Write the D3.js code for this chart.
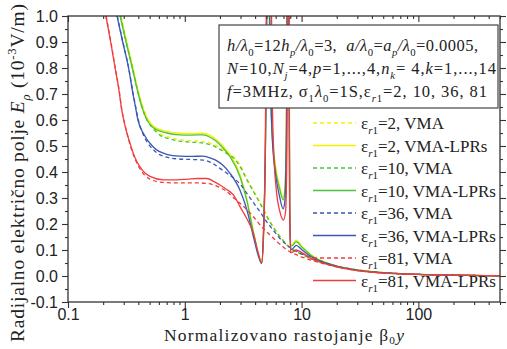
<!DOCTYPE html>
<html>
<head>
<meta charset="utf-8">
<script src="https://d3js.org/d3.v7.min.js"></script>
<style>
body { margin: 0; background: #fff; }
</style>
</head>
<body>
<svg id="chart" width="507" height="349"></svg>
<script>
// values: [beta0*y, E (1e-3 V/m)]
var eps2Vma = [[0.284,1.0],[0.318,0.9],[0.36,0.8],[0.405,0.70],[0.443,0.644],[0.48,0.606],[0.54,0.571],[0.62,0.546],[0.75,0.533],[0.9,0.525],[1.1,0.521],[1.4,0.518],[1.7,0.509],[2.0,0.493],[2.3,0.476],[2.6,0.461],[3.0,0.424],[3.4,0.376],[3.9,0.327],[4.4,0.285],[5.4,0.209],[6.5,0.155],[8.0,0.109],[9.5,0.09],[11,0.075],[15,0.053],[20,0.037],[30,0.023],[57,0.011],[100,0.006],[200,0.003],[500,0.001]];
var eps2Lpr = [[0.283,1.0],[0.318,0.9],[0.36,0.8],[0.405,0.70],[0.443,0.64],[0.48,0.605],[0.54,0.576],[0.7,0.556],[0.9,0.549],[1.15,0.548],[1.43,0.549],[1.7,0.537],[1.87,0.524],[2.1,0.502],[2.44,0.466],[2.97,0.39],[3.4,0.296],[3.9,0.165],[4.25,0.088],[4.55,0.052],[4.7,0.15],[4.9,0.5],[5.1,1.15],[5.25,1.15],[5.35,0.86],[5.55,0.6],[5.9,0.445],[6.45,0.35],[6.95,0.302],[7.2,0.34],[7.42,0.62],[7.55,1.15],[7.75,1.15],[7.9,0.3],[8.05,0.12],[8.4,0.124],[9.0,0.138],[10,0.116],[12,0.083],[15.2,0.057],[20,0.039],[30,0.024],[57,0.011],[100,0.006],[200,0.003],[500,0.001]];
var eps10Vma = [[0.281,1.0],[0.315,0.9],[0.356,0.8],[0.40,0.70],[0.438,0.638],[0.474,0.6],[0.54,0.565],[0.62,0.54],[0.75,0.527],[0.9,0.519],[1.1,0.515],[1.4,0.512],[1.7,0.503],[2.0,0.487],[2.3,0.47],[2.6,0.455],[3.0,0.418],[3.4,0.37],[3.9,0.322],[4.4,0.28],[5.4,0.205],[6.5,0.152],[8.0,0.107],[9.5,0.088],[11,0.074],[15,0.052],[20,0.037],[30,0.023],[57,0.011],[100,0.006],[200,0.003],[500,0.001]];
var eps10Lpr = [[0.279,1.0],[0.314,0.9],[0.355,0.8],[0.40,0.70],[0.438,0.638],[0.474,0.6],[0.54,0.57],[0.7,0.55],[0.9,0.543],[1.15,0.542],[1.43,0.543],[1.7,0.53],[1.87,0.517],[2.1,0.495],[2.44,0.459],[2.97,0.382],[3.4,0.29],[3.9,0.16],[4.25,0.085],[4.55,0.05],[4.7,0.15],[4.9,0.5],[5.1,1.15],[5.25,1.15],[5.35,0.85],[5.55,0.58],[5.9,0.43],[6.45,0.34],[6.95,0.292],[7.2,0.33],[7.42,0.6],[7.55,1.15],[7.75,1.15],[7.9,0.3],[8.05,0.115],[8.4,0.118],[9.0,0.132],[10,0.112],[12,0.08],[15.2,0.055],[20,0.038],[30,0.023],[57,0.011],[100,0.006],[200,0.003],[500,0.001]];
var eps36Vma = [[0.264,1.0],[0.295,0.9],[0.331,0.8],[0.362,0.70],[0.38,0.65],[0.4,0.6],[0.44,0.545],[0.54,0.485],[0.7,0.457],[0.9,0.45],[1.15,0.448],[1.43,0.446],[1.7,0.435],[2.0,0.414],[2.3,0.395],[2.6,0.378],[3.0,0.352],[3.4,0.318],[3.9,0.28],[4.4,0.247],[5.0,0.21],[5.7,0.177],[6.5,0.145],[7.5,0.119],[9,0.095],[11,0.078],[15,0.055],[20,0.038],[30,0.023],[57,0.011],[100,0.006],[200,0.003],[500,0.001]];
var eps36Lpr = [[0.263,1.0],[0.294,0.9],[0.33,0.8],[0.36,0.70],[0.378,0.65],[0.397,0.6],[0.44,0.55],[0.54,0.495],[0.7,0.468],[0.9,0.461],[1.15,0.46],[1.43,0.461],[1.7,0.452],[1.87,0.444],[2.1,0.428],[2.44,0.395],[2.97,0.33],[3.4,0.255],[3.9,0.145],[4.25,0.08],[4.55,0.048],[4.7,0.14],[4.9,0.48],[5.1,1.15],[5.3,1.15],[5.4,0.8],[5.6,0.54],[5.95,0.4],[6.45,0.31],[6.95,0.258],[7.2,0.29],[7.42,0.55],[7.55,1.15],[7.75,1.15],[7.9,0.28],[8.05,0.1],[8.4,0.105],[9.0,0.118],[10,0.102],[12,0.075],[15.2,0.053],[20,0.037],[30,0.022],[57,0.011],[100,0.006],[200,0.003],[500,0.001]];
var eps81Vma = [[0.212,1.0],[0.233,0.9],[0.254,0.8],[0.273,0.72],[0.289,0.64],[0.308,0.58],[0.34,0.505],[0.375,0.45],[0.413,0.413],[0.504,0.372],[0.655,0.36],[0.85,0.358],[1.04,0.358],[1.3,0.358],[1.6,0.355],[1.9,0.345],[2.28,0.325],[2.6,0.302],[2.97,0.28],[3.4,0.255],[3.87,0.228],[4.5,0.192],[5.36,0.158],[6.3,0.128],[7.5,0.1],[9,0.082],[11,0.067],[15,0.049],[20,0.035],[30,0.021],[57,0.01],[100,0.006],[200,0.003],[500,0.001]];
var eps81Lpr = [[0.211,1.0],[0.232,0.9],[0.253,0.8],[0.272,0.72],[0.288,0.64],[0.307,0.58],[0.34,0.51],[0.375,0.455],[0.413,0.42],[0.504,0.383],[0.655,0.37],[0.85,0.37],[1.04,0.372],[1.3,0.375],[1.54,0.375],[1.8,0.362],[2.0,0.35],[2.3,0.332],[2.61,0.312],[2.97,0.267],[3.4,0.22],[3.87,0.164],[4.25,0.09],[4.55,0.05],[4.7,0.13],[4.88,0.45],[5.02,1.15],[5.5,1.15],[5.58,0.75],[5.75,0.5],[6.05,0.34],[6.5,0.25],[7.0,0.215],[7.3,0.25],[7.5,0.5],[7.62,1.15],[7.78,1.15],[7.92,0.25],[8.05,0.09],[8.4,0.092],[9.0,0.1],[10,0.09],[12,0.068],[15.2,0.05],[20,0.035],[30,0.021],[57,0.01],[100,0.006],[200,0.003],[500,0.001]];

var legendLabels = ["2, VMA","2, VMA-LPRs","10, VMA","10, VMA-LPRs","36, VMA","36, VMA-LPRs","81, VMA","81, VMA-LPRs"];
var xMajor = [0.1, 1, 10, 100];
var yMajor = [-0.1,0,0.1,0.2,0.3,0.4,0.5,0.6,0.7,0.8,0.9,1.0];

var series = [
  {d: eps2Vma,  c: "#f2f200", dash: true},
  {d: eps2Lpr,  c: "#f2f200", dash: false},
  {d: eps10Vma, c: "#4cc43c", dash: true},
  {d: eps10Lpr, c: "#4cc43c", dash: false},
  {d: eps36Vma, c: "#3b56b4", dash: true},
  {d: eps36Lpr, c: "#3b56b4", dash: false},
  {d: eps81Vma, c: "#f03c3c", dash: true},
  {d: eps81Lpr, c: "#f03c3c", dash: false}
];

var SERIF = "'Liberation Serif', 'Times New Roman', 'DejaVu Serif', serif";
var SANS = "'Liberation Sans', Arial, sans-serif";

var svg = d3.select("#chart");
var L = 68, R = 500, T = 16, B = 302;
var x = d3.scaleLog().domain([0.1, 500]).range([L, R]);
var y = d3.scaleLinear().domain([-0.1, 1.0]).range([B, T]);

var xMinor = [];
[0.1, 1, 10, 100].forEach(function(p) {
  for (var k = 2; k <= 9; k++) if (p * k <= 500) xMinor.push(p * k);
});
var yMinor = d3.range(-0.05, 1.0, 0.1);

svg.append("clipPath").attr("id", "clip")
  .append("rect").attr("x", L).attr("y", T).attr("width", R - L).attr("height", B - T);

var line = d3.line().x(function(d){ return x(d[0]); }).y(function(d){ return y(d[1]); })
  .curve(d3.curveMonotoneX);

var plot = svg.append("g").attr("clip-path", "url(#clip)");
series.forEach(function(s) {
  plot.append("path").attr("d", line(s.d))
    .attr("fill", "none").attr("stroke", s.c).attr("stroke-width", 1.3)
    .attr("stroke-dasharray", s.dash ? "4,3" : null);
});

// axes
function styleAxis(g) {
  g.select(".domain").remove();
  g.selectAll(".tick line").attr("stroke", "#333").attr("stroke-width", 1.1);
  g.selectAll(".tick text").style("font-family", SANS).style("font-size", "16px").attr("fill", "#222");
}
svg.append("g").attr("transform", "translate(0," + B + ")")
  .call(d3.axisBottom(x).tickValues(xMajor).tickSize(6).tickPadding(1).tickFormat(function(d){ return String(d); }))
  .call(styleAxis);
svg.append("g").attr("transform", "translate(0," + B + ")")
  .call(d3.axisBottom(x).tickValues(xMinor).tickSize(3).tickFormat(""))
  .call(styleAxis);
svg.append("g").attr("transform", "translate(0," + T + ")")
  .call(d3.axisTop(x).tickValues(xMajor).tickSizeInner(-6).tickSizeOuter(0).tickFormat(""))
  .call(styleAxis);
svg.append("g").attr("transform", "translate(0," + T + ")")
  .call(d3.axisTop(x).tickValues(xMinor).tickSizeInner(-3).tickSizeOuter(0).tickFormat(""))
  .call(styleAxis);
svg.append("g").attr("transform", "translate(" + L + ",0)")
  .call(d3.axisLeft(y).tickValues(yMajor).tickSize(6).tickPadding(4).tickFormat(function(d){ return d.toFixed(1); }))
  .call(styleAxis);
svg.append("g").attr("transform", "translate(" + L + ",0)")
  .call(d3.axisLeft(y).tickValues(yMinor).tickSize(3).tickFormat(""))
  .call(styleAxis);
svg.append("g").attr("transform", "translate(" + R + ",0)")
  .call(d3.axisRight(y).tickValues(yMajor).tickSize(6).tickFormat(""))
  .call(styleAxis);
svg.append("g").attr("transform", "translate(" + R + ",0)")
  .call(d3.axisRight(y).tickValues(yMinor).tickSize(3).tickFormat(""))
  .call(styleAxis);

svg.append("rect").attr("x", L).attr("y", T).attr("width", R - L).attr("height", B - T)
  .attr("fill", "none").attr("stroke", "#333").attr("stroke-width", 1.3);

// rich text with italics / sub / superscripts
function rich(g, px, py, parts, size, len, subShift) {
  var t = g.append("text").attr("x", px).attr("y", py)
    .style("font-family", SERIF).style("font-size", size + "px")
    .style("white-space", "pre").attr("fill", "#222");
  var shift = 0;
  var subK = subShift || 0.3;
  parts.forEach(function(p) {
    var f = p[1];
    var sub = f.indexOf("s") >= 0, sup = f.indexOf("u") >= 0;
    var target = sub ? size * subK : (sup ? -size * 0.4 : 0);
    var ts = t.append("tspan").text(p[0]).attr("dy", target - shift);
    shift = target;
    if (f.indexOf("i") >= 0) ts.style("font-style", "italic");
    if (sub || sup) ts.style("font-size", (size * 0.65) + "px");
  });
  if (len) t.attr("textLength", len).attr("lengthAdjust", "spacing");
  return t;
}

// parameter box
svg.append("rect").attr("x", 219).attr("y", 25).attr("width", 279).attr("height", 83)
  .attr("fill", "#fff").attr("stroke", "#444").attr("stroke-width", 1.2);
var box = svg.append("g");
rich(box, 227, 51, [["h","i"],["/λ","i"],["0","s"],["=12",""],["h","i"],["p","si"],["/λ","i"],["0","s"],["=3,  ",""],["a","i"],["/λ","i"],["0","s"],["=",""],["a","i"],["p","si"],["/λ","i"],["0","s"],["=0.0005,",""]], 16.5, 251);
rich(box, 227, 74, [["N","i"],["=10,",""],["N","i"],["j","si"],["=4,",""],["p","i"],["=1,...,4,",""],["n","i"],["k","si"],["= 4,",""],["k","i"],["=1,...,14",""]], 16.5, 269);
rich(box, 227, 97, [["f","i"],["=3MHz, σ",""],["1","s"],["λ","i"],["0","s"],["=1S,ε",""],["r","si"],["1","s"],["=2, 10, 36, 81",""]], 16.5, 260);

// legend
var leg = svg.append("g");
series.forEach(function(s, i) {
  var ly = 123 + i * 22.5;
  leg.append("line").attr("x1", 313).attr("x2", 356).attr("y1", ly).attr("y2", ly)
    .attr("stroke", s.c).attr("stroke-width", 1.3)
    .attr("stroke-dasharray", s.dash ? "4,3" : null);
  rich(leg, 361, ly + 6, [["ε",""],["r","si"],["1","s"],["=" + legendLabels[i],""]], 17);
});

// axis titles
var yt = svg.append("g").attr("transform", "translate(24,173) rotate(-90)");
rich(yt, 0, 0, [["Radijalno električno polje ",""],["E","i"],["ρ","si"],[" (10",""],["-3","u"],["V/m)",""]], 19.5, 338)
  .attr("text-anchor", "middle");
rich(svg, 284, 340.5, [["Normalizovano rastojanje β",""],["0","s"],["y","i"]], 17.5, 240, 0.22)
  .attr("text-anchor", "middle");
</script>
</body>
</html>
